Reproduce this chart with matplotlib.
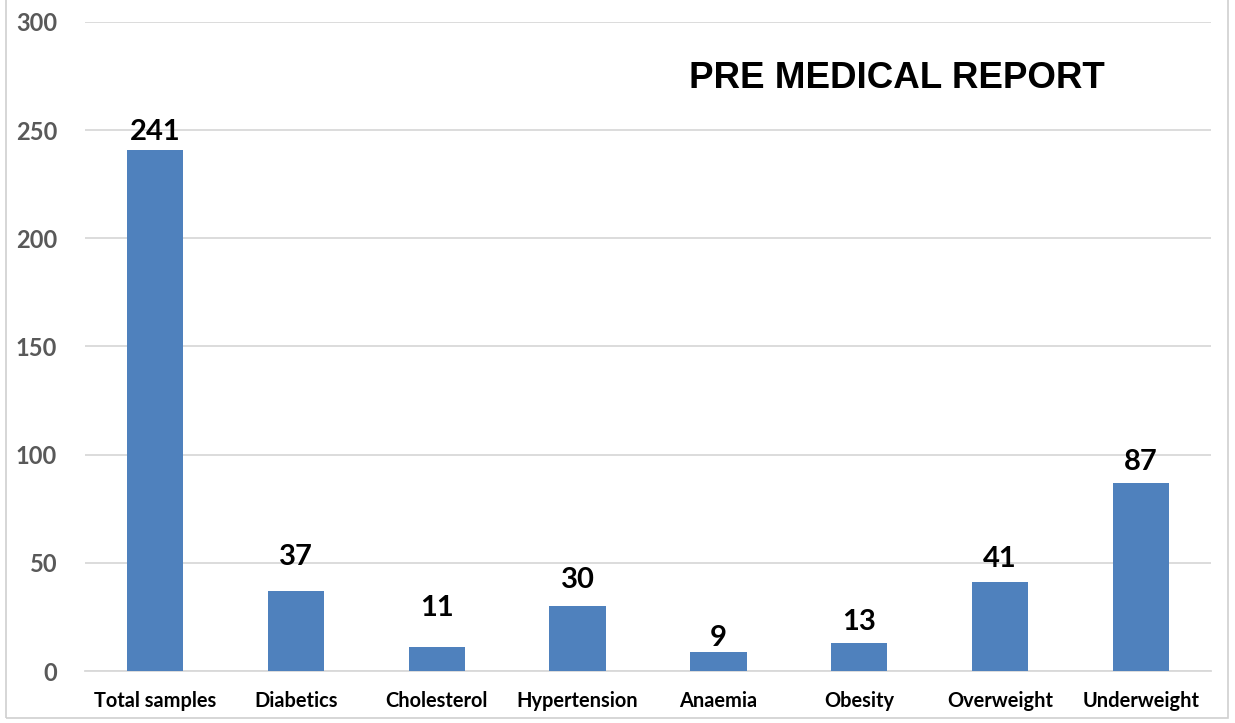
import matplotlib
matplotlib.use("Agg")
import matplotlib.pyplot as plt
from matplotlib.patches import Rectangle

categories = ["Total samples", "Diabetics", "Cholesterol", "Hypertension",
              "Anaemia", "Obesity", "Overweight", "Underweight"]
counts = [241, 37, 11, 30, 9, 13, 41, 87]
yticks = [0, 50, 100, 150, 200, 250, 300]
title = "PRE MEDICAL REPORT"

# label lift above each bar (points), the labels were nudged by hand in the original
label_lift = [12.5, 24.5, 28, 18.5, 10, 15, 16.5, 15]

fig = plt.figure(figsize=(12.35, 7.23), dpi=100)
ax = fig.add_axes([0.0688, 0.0719, 0.9118, 0.8977])

x = range(len(categories))
bars = ax.bar(x, counts, width=0.4, color="#4F81BD", zorder=3)

for xi, v, lift in zip(x, counts, label_lift):
    ax.annotate(str(v), (xi, v), xytext=(0, lift), textcoords="offset points",
                ha="center", va="center", fontsize=21, fontweight="bold",
                family="Lato", color="black")

ax.set_xlim(-0.5, len(categories) - 0.5)
ax.set_ylim(0, 300)
ax.set_yticks(yticks)
ax.set_yticklabels([str(t) for t in yticks], fontsize=17, fontweight="bold",
                   family="Lato", color="#595959")
ax.set_xticks(list(x))
ax.set_xticklabels(categories, fontsize=14.4, fontweight="bold", family="Lato",
                   color="black")
ax.tick_params(axis="both", length=0)
ax.tick_params(axis="y", pad=20)
ax.tick_params(axis="x", pad=14.5)

ax.grid(axis="y", color="#D9D9D9", linewidth=1.3, zorder=0)
for s in ["top", "right", "left"]:
    ax.spines[s].set_visible(False)
ax.spines["bottom"].set_color("#D9D9D9")
ax.spines["bottom"].set_linewidth(1.3)

ax.text(0.721, 0.913, title, transform=ax.transAxes, ha="center", va="center",
        fontsize=26.5, fontweight="bold", family="Liberation Sans", color="black")

fig.patches.append(Rectangle((6 / 1235, 5 / 723), 1222 / 1235, 740 / 723,
                             transform=fig.transFigure, fill=False,
                             edgecolor="#D0D0D0", linewidth=1.2))

fig.savefig("out.png", dpi=100)
